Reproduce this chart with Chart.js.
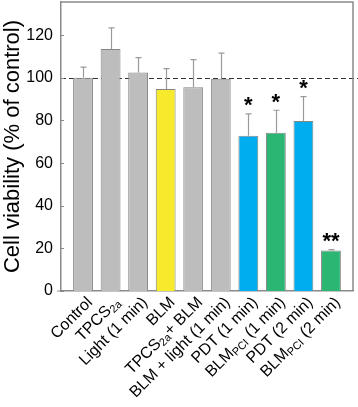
<!DOCTYPE html>
<html><head><meta charset="utf-8">
<script src="https://cdn.jsdelivr.net/npm/chart.js@4"></script>
<style>html,body{margin:0;padding:0;background:#fff}#wrap{width:358px;height:407px}</style>
</head><body><div id="wrap"><canvas id="c" width="358" height="407"></canvas></div>
<script>
// Labels: text inside {...} is drawn as a subscript
const categories = ['Control', 'TPCS{2a}', 'Light (1 min)', 'BLM', 'TPCS{2a}+ BLM', 'BLM + light (1 min)',
  'PDT (1 min)', 'BLM{PCI} (1 min)', 'PDT (2 min)', 'BLM{PCI} (2 min)'];
const viability = [100, 113.5, 102.5, 94.8, 95.6, 99.6, 72.8, 74.3, 79.8, 19];
const errors = [5, 10, 7, 9.5, 13, 12, 10.3, 10.5, 11.4, 0.4];
const significance = ['', '', '', '', '', '', '*', '*', '*', '**'];
const barColors = ['#bdbdbd', '#bdbdbd', '#bdbdbd', '#f7e92c', '#bdbdbd', '#bdbdbd',
  '#00aeef', '#2bb673', '#00aeef', '#2bb673'];
const yTicks = [0, 20, 40, 60, 80, 100, 120];
const referenceLine = 100;

const FONT = '"Liberation Sans", Arial, sans-serif';
const FRAME = '#8a8a8a';

const decor = {
  id: 'decor',
  beforeDatasetsDraw(chart) {
    const {ctx, chartArea: a, scales: {y}} = chart;
    const py = Math.round(y.getPixelForValue(referenceLine)) + 0.5;
    ctx.save();
    ctx.strokeStyle = '#333';
    ctx.lineWidth = 1;
    ctx.setLineDash([5, 3]);
    ctx.beginPath(); ctx.moveTo(a.left, py); ctx.lineTo(a.right + 5, py); ctx.stroke();
    ctx.restore();
  },
  afterDatasetsDraw(chart) {
    const {ctx, chartArea: a, scales: {x, y}} = chart;
    ctx.save();
    ctx.strokeStyle = '#9a9a9a';
    ctx.lineWidth = 1.2;
    viability.forEach((v, i) => {
      const px = Math.round(x.getPixelForValue(i)) + 0.5;
      const p0 = y.getPixelForValue(v);
      const p1 = y.getPixelForValue(v + errors[i]);
      ctx.beginPath();
      ctx.moveTo(px, p0); ctx.lineTo(px, p1);
      ctx.moveTo(px - 3, p1); ctx.lineTo(px + 3, p1);
      ctx.stroke();
    });
    ctx.fillStyle = '#000';
    ctx.font = 'bold 22px ' + FONT;
    ctx.textAlign = 'center';
    ctx.textBaseline = 'alphabetic';
    significance.forEach((s, i) => {
      if (!s) return;
      const px = x.getPixelForValue(i);
      const top = y.getPixelForValue(viability[i] + errors[i]);
      const center = top - 12;
      const m = ctx.measureText(s);
      const base = center + (m.actualBoundingBoxAscent - m.actualBoundingBoxDescent) / 2;
      ctx.fillText(s, px, base);
    });
    ctx.strokeStyle = FRAME;
    ctx.lineWidth = 1.5;
    ctx.beginPath();
    ctx.moveTo(a.left, a.top); ctx.lineTo(a.right, a.top); ctx.lineTo(a.right, a.bottom);
    ctx.stroke();
    ctx.lineWidth = 1;
    yTicks.forEach(t => {
      const py = Math.round(y.getPixelForValue(t)) + 0.5;
      ctx.beginPath(); ctx.moveTo(a.left, py); ctx.lineTo(a.left + 3, py); ctx.stroke();
    });
    ctx.beginPath(); ctx.moveTo(a.left - 4, a.bottom); ctx.lineTo(a.left, a.bottom); ctx.stroke();
    ctx.restore();
  },
  afterDraw(chart) {
    const {ctx, chartArea: a, scales: {x}} = chart;
    const size = 16, sub = 11;
    ctx.save();
    ctx.fillStyle = '#000';
    ctx.textBaseline = 'middle';
    ctx.textAlign = 'left';
    categories.forEach((lab, i) => {
      const parts = [];
      const re = /\{([^}]*)\}|([^{]+)/g;
      let m;
      while ((m = re.exec(lab))) parts.push(m[1] !== undefined ? {t: m[1], s: true} : {t: m[2], s: false});
      let total = 0;
      parts.forEach(p => { ctx.font = (p.s ? sub : size) + 'px ' + FONT; p.w = ctx.measureText(p.t).width; total += p.w; });
      const px = x.getPixelForValue(i) + 7;
      ctx.save();
      ctx.translate(px, a.bottom + 9);
      ctx.rotate(-Math.PI / 4);
      let cx = -total;
      parts.forEach(p => {
        ctx.font = (p.s ? sub : size) + 'px ' + FONT;
        ctx.fillText(p.t, cx, p.s ? 4 : 0);
        cx += p.w;
      });
      ctx.restore();
    });
    ctx.restore();
  }
};

new Chart(document.getElementById('c'), {
  type: 'bar',
  data: {
    datasets: [{
      data: viability.map((v, i) => ({x: i, y: v})),
      backgroundColor: barColors,
      borderColor: '#858585',
      borderWidth: 1,
      barPercentage: 0.72,
      categoryPercentage: 1
    }]
  },
  options: {
    responsive: false,
    devicePixelRatio: 1,
    animation: false,
    layout: {padding: {top: 2, right: 5, left: 0, bottom: 0}},
    plugins: {legend: {display: false}, tooltip: {enabled: false}},
    scales: {
      x: {
        type: 'linear', min: -0.8, max: 9.8, offset: false, bounds: 'data',
        afterBuildTicks: s => { s.ticks = categories.map((c, i) => ({value: i})); },
        ticks: {display: false},
        grid: {display: false, drawTicks: false, offset: false},
        border: {display: true, color: FRAME, width: 1.5},
        afterFit: s => { s.height = 116; s.paddingLeft = 0; s.paddingRight = 0; }
      },
      y: {
        min: 0, max: 135.6,
        afterBuildTicks: s => { s.ticks = yTicks.map(v => ({value: v})); },
        ticks: {color: '#000', padding: 8, font: {size: 16, family: FONT}},
        grid: {display: false, drawTicks: false},
        border: {display: true, color: FRAME, width: 1.5},
        title: {display: true, text: 'Cell viability (% of control)', color: '#000', padding: 0,
          font: {size: 22, family: FONT}},
        afterFit: s => { s.width = 61; s.paddingTop = 0; s.paddingBottom = 0; }
      }
    }
  },
  plugins: [decor]
});
</script></body></html>
